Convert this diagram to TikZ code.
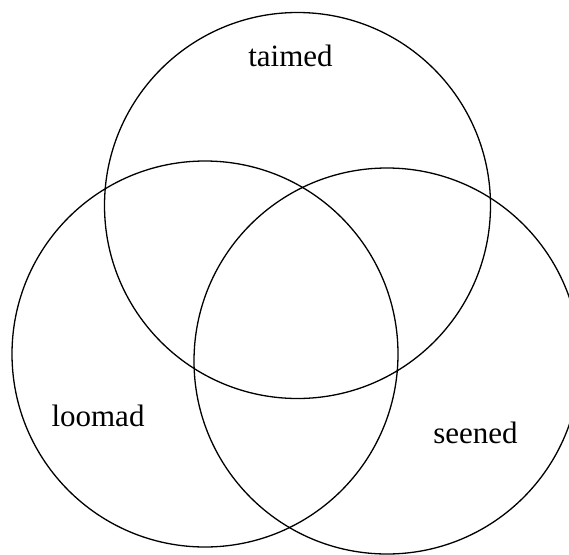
\documentclass[tikz,border=0pt]{standalone}
\usepackage{fontspec}
\setmainfont{Liberation Serif}
\begin{document}
\begin{tikzpicture}[x=1pt, y=-1pt, every node/.style={inner sep=0pt}]
	\useasboundingbox (0,0) rectangle (569,554);
	\clip (0,0) rectangle (569,554);
	\tikzset{set/.style={circle, draw, line width=1.3pt, minimum size=386pt},
		setname/.style={font=\fontsize{31}{36}\selectfont}}
	
	\node [set] (taimed) at (297.5,205.5) {};
	\node [set] (loomad) at (205,354) {};
	\node [set] (seened) at (387,361) {};
	
	\node [setname] (t) at (290.5,56) {taimed};
	\node [setname] (l) at (98,416) {loomad};
	\node [setname] (s) at (475.5,432.5) {seened};
\end{tikzpicture}
\end{document}
